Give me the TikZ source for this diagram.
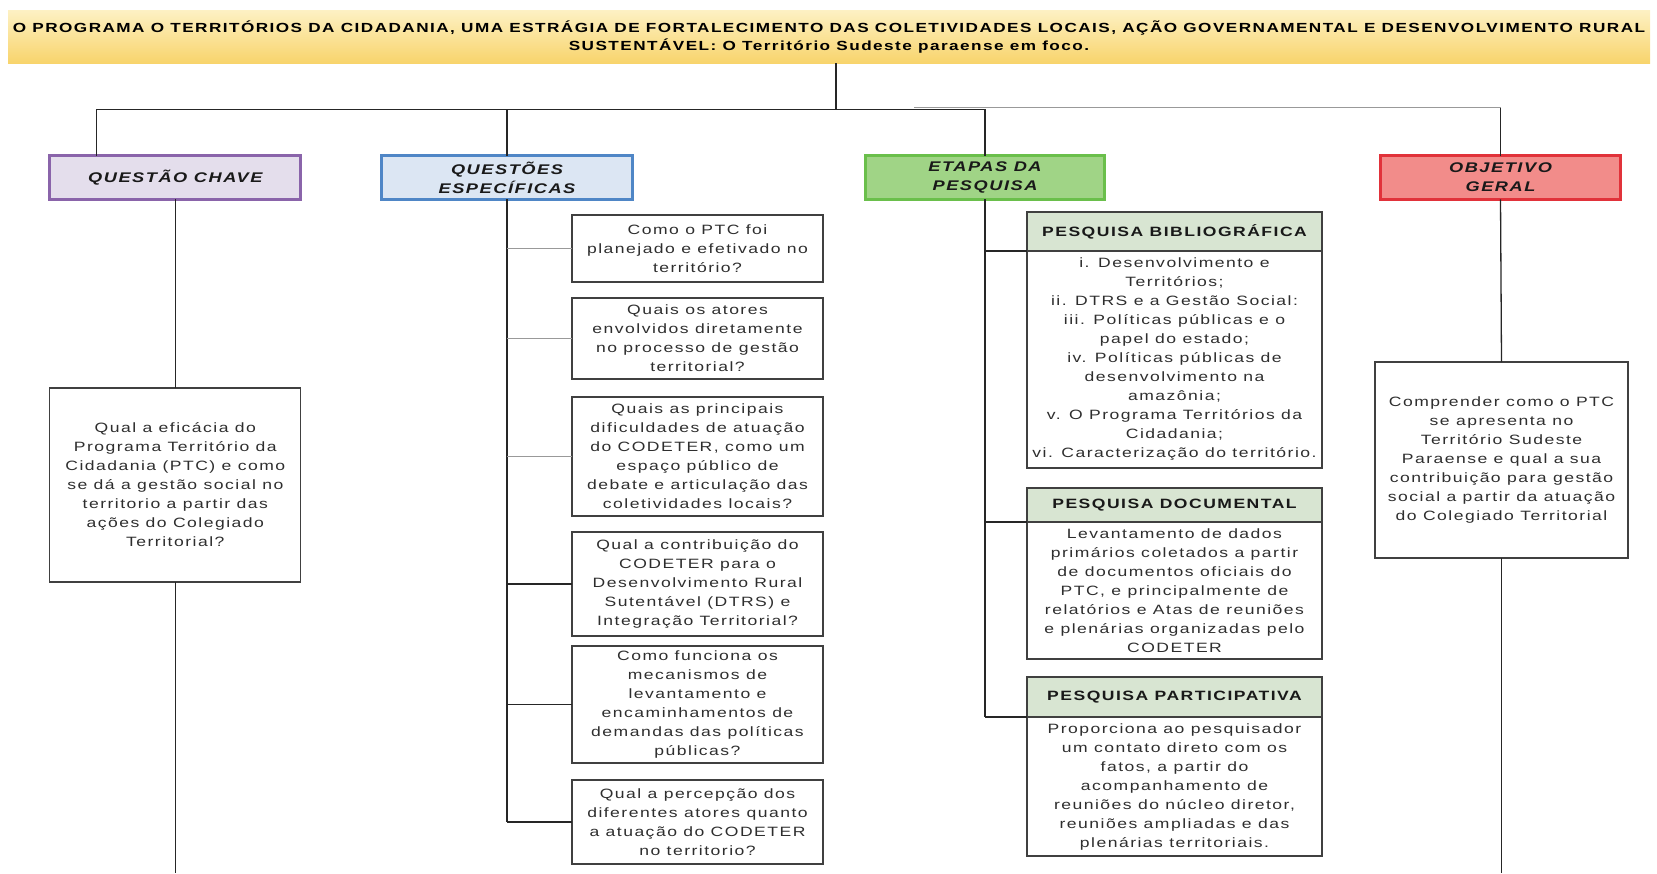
\documentclass[tikz,border=0pt]{standalone}
\usepackage{fontspec}
\setmainfont{Liberation Sans}[FakeStretch=1.3,LetterSpace=11]
\usetikzlibrary{positioning}

\definecolor{ink}{HTML}{2E2E2E}
\definecolor{titletop}{HTML}{FDF1C4}
\definecolor{titlebot}{HTML}{F8D46C}
\definecolor{qcfill}{HTML}{E4DEEC}
\definecolor{qcline}{HTML}{8A64AA}
\definecolor{qefill}{HTML}{DCE6F3}
\definecolor{qeline}{HTML}{4F86C6}
\definecolor{etfill}{HTML}{A0D486}
\definecolor{etline}{HTML}{6ABF4B}
\definecolor{ogfill}{HTML}{F28C8A}
\definecolor{ogline}{HTML}{E1323A}
\definecolor{stepfill}{HTML}{D8E5D2}

\begin{document}
\begin{tikzpicture}[x=1pt, y=-1pt,
    conn/.style={line width=1.3pt, draw=black!85},
    greyconn/.style={line width=1.6pt, draw=black!40},
    headbox/.style={draw, line width=3pt, outer sep=0pt, minimum width=251pt, minimum height=43.5pt,
        inner sep=0pt, align=center, text=black!90, font=\fontsize{14}{19}\selectfont\bfseries\itshape},
    textbox/.style={draw=black!75, line width=1.3pt, outer sep=0pt, fill=white, inner sep=0pt,
        align=center, text=ink, font=\fontsize{13.5}{19}\selectfont},
    stephead/.style={textbox, fill=stepfill, text=black!90, minimum width=295pt,
        font=\fontsize{13.5}{19}\selectfont\bfseries},
    stepbody/.style={textbox, minimum width=295pt, below=0pt of #1},
]
    \useasboundingbox (0,0) rectangle (1657,873);

    % Title band
    \node[top color=titletop, bottom color=titlebot, minimum width=1642pt, minimum height=53pt,
        inner sep=0pt, align=center, font=\fontsize{13.2}{18}\selectfont\bfseries] (title) at (829,36.5)
        {O PROGRAMA O TERRITÓRIOS DA CIDADANIA, UMA ESTRÁGIA DE FORTALECIMENTO DAS COLETIVIDADES LOCAIS, AÇÃO GOVERNAMENTAL E DESENVOLVIMENTO RURAL\\
         SUSTENTÁVEL: O Território Sudeste paraense em foco.};

    % Column heads
    \node[headbox, fill=qcfill, draw=qcline] (qchave) at (175.3,177.5) {QUESTÃO CHAVE};
    \node[headbox, fill=qefill, draw=qeline] (qesp) at (507,177.5) {QUESTÕES\\ESPECÍFICAS};
    \node[headbox, fill=etfill, draw=etline, minimum width=239pt] (etapas) at (985,177.5) {ETAPAS DA\\PESQUISA};
    \node[headbox, fill=ogfill, draw=ogline, minimum width=240pt] (objetivo) at (1500.5,177.5) {OBJETIVO\\GERAL};

    % Key question
    \node[textbox, minimum width=251pt, minimum height=194pt] (qcText) at (175.3,485)
        {Qual a eficácia do\\Programa Território da\\Cidadania (PTC) e como\\se dá a gestão social no\\territorio a partir das\\ações do Colegiado\\Territorial?};

    % Specific questions
    \node[textbox, minimum width=251pt, minimum height=67pt] (qe1) at (697.5,248.5)
        {Como o PTC foi\\planejado e efetivado no\\território?};
    \node[textbox, minimum width=251pt, minimum height=81pt] (qe2) at (697.5,338.5)
        {Quais os atores\\envolvidos diretamente\\no processo de gestão\\territorial?};
    \node[textbox, minimum width=251pt, minimum height=119pt] (qe3) at (697.5,456.5)
        {Quais as principais\\dificuldades de atuação\\do CODETER, como um\\espaço público de\\debate e articulação das\\coletividades locais?};
    \node[textbox, minimum width=251pt, minimum height=104pt] (qe4) at (697.5,584)
        {Qual a contribuição do\\CODETER para o\\Desenvolvimento Rural\\Sutentável (DTRS) e\\Integração Territorial?};
    \node[textbox, minimum width=251pt, minimum height=117pt] (qe5) at (697.5,704.5)
        {Como funciona os\\mecanismos de\\levantamento e\\encaminhamentos de\\demandas das políticas\\públicas?};
    \node[textbox, minimum width=251pt, minimum height=84pt] (qe6) at (697.5,822)
        {Qual a percepção dos\\diferentes atores quanto\\a atuação do CODETER\\no territorio?};

    % Research steps
    \node[stephead, minimum height=39pt] (bib) at (1174.5,231.5) {PESQUISA BIBLIOGRÁFICA};
    \node[stepbody=bib, minimum height=217pt] (bibText)
        {i. Desenvolvimento e\\Territórios;\\ii. DTRS e a Gestão Social:\\iii. Políticas públicas e o\\papel do estado;\\iv. Políticas públicas de\\desenvolvimento na\\amazônia;\\v. O Programa Territórios da\\Cidadania;\\vi. Caracterização do território.};
    \node[stephead, minimum height=34pt] (doc) at (1174.5,505) {PESQUISA DOCUMENTAL};
    \node[stepbody=doc, minimum height=137pt] (docText)
        {Levantamento de dados\\primários coletados a partir\\de documentos oficiais do\\PTC, e principalmente de\\relatórios e Atas de reuniões\\e plenárias organizadas pelo\\CODETER};
    \node[stephead, minimum height=40pt] (part) at (1174.5,697) {PESQUISA PARTICIPATIVA};
    \node[stepbody=part, minimum height=139pt] (partText)
        {Proporciona ao pesquisador\\um contato direto com os\\fatos, a partir do\\acompanhamento de\\reuniões do núcleo diretor,\\reuniões ampliadas e das\\plenárias territoriais.};

    % General objective
    \node[textbox, minimum width=253pt, minimum height=196pt] (objText) at (1501.5,460)
        {Comprender como o PTC\\se apresenta no\\Território Sudeste\\Paraense e qual a sua\\contribuição para gestão\\social a partir da atuação\\do Colegiado Territorial};

    % Connectors
    \coordinate (busend) at (914,107.5);
    \draw[greyconn] (busend) -- (busend -| objetivo.north) coordinate (ogdrop);
    \draw[conn] (ogdrop) -- (objetivo.north);
    \draw[conn] ([xshift=7pt]title.south) -- ++(0,46) coordinate (bus);
    \draw[conn] ([xshift=47pt]qchave.north west) |- (bus) -| (etapas.north);
    \draw[conn] (qesp.north) -- (qesp.north |- bus);

    \draw[conn] (qchave.south) -- (qcText.north);
    \draw[conn] (qcText.south) -- (qcText.south |- 0,873);

    \draw[conn] (qesp.south) -- (qesp.south |- qe6.west);
    \foreach \i in {1,2,3}
        \draw[greyconn] (qesp.south |- qe\i.west) -- (qe\i.west);
    \foreach \i in {4,5,6}
        \draw[conn] (qesp.south |- qe\i.west) -- (qe\i.west);

    \draw[conn] (etapas.south) -- (etapas.south |- part.south west);
    \foreach \n in {bib,doc,part}
        \draw[conn] (etapas.south |- \n.south west) -- (\n.south west);

    \draw[conn] (objetivo.south) -- (objText.north);
    \draw[conn] (objText.south) -- (objText.south |- 0,873);
\end{tikzpicture}
\end{document}
